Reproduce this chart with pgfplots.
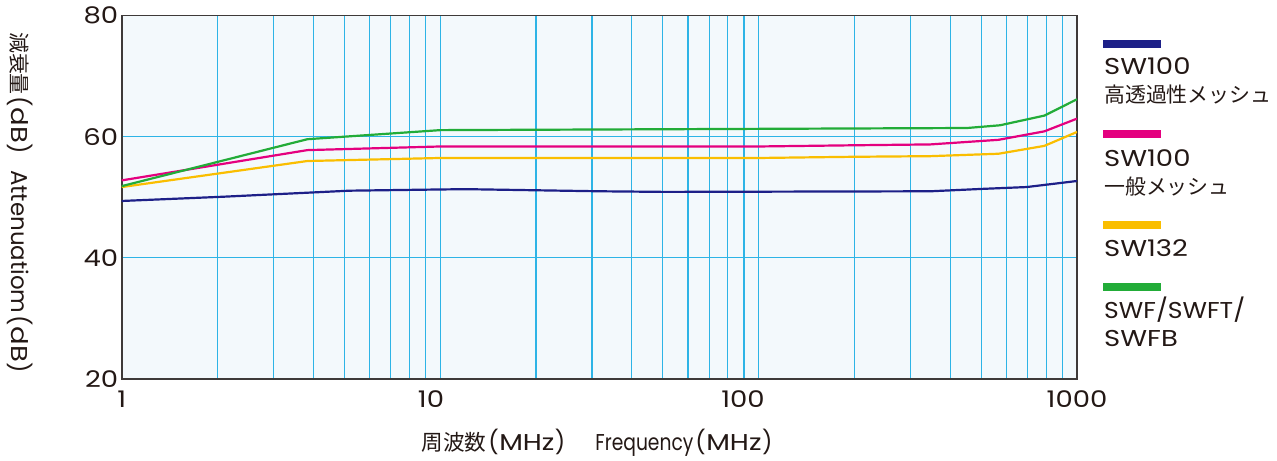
\documentclass[border=0pt]{standalone}
\usepackage{pgfplots}
\pgfplotsset{compat=1.18}
\usepackage{graphicx}
\usepackage{fontspec}
\setmainfont{Poppins}
\newfontfamily\wide{Poppins}[FakeStretch=1.2]
\newfontfamily\jp{Noto Sans CJK JP}
\definecolor{navy}{HTML}{1D2088}
\definecolor{mag}{HTML}{E4007F}
\definecolor{yel}{HTML}{FABE00}
\definecolor{grn}{HTML}{22AC38}
\definecolor{gridc}{HTML}{2DB4E6}
\definecolor{bgc}{HTML}{F3F9FC}
\definecolor{axc}{HTML}{3E3A39}
\definecolor{txt}{HTML}{231815}
\newcommand{\fs}{\fontsize{23}{28}\selectfont}
\newcommand{\J}[2][21]{{\jp\fontsize{#1}{28}\selectfont #2}}
\newcommand{\W}[2]{\resizebox{#1bp}{\height}{#2}}
\newcommand{\Par}[1]{{(\kern0.5bp{\wide #1}\kern0.5bp)}}
\begin{document}
\begin{tikzpicture}[x=1bp,y=1bp]
\useasboundingbox (0,0) rectangle (1277,461);
\begin{axis}[
  at={(121.7bp,82bp)}, anchor=south west,
  scale only axis, width=955.3bp, height=363.3bp,
  xmode=log, xmin=1, xmax=1000, ymin=20, ymax=80,
  ytick={20,40,60,80},
  xtick={1,9.36,89.4,1000}, xticklabels={1,10,100,1000},
  minor xtick={2,3,4,5,6,7,8,9,10,20,30,40,50,60,70,80,90,100,200,300,400,500,600,700,800,900},
  xmajorgrids=false, xminorgrids=true, ymajorgrids=true,
  grid style={gridc, line width=1.2bp},
  minor grid style={gridc, line width=1.2bp},
  major tick length=0pt, minor tick length=0pt,
  axis line style={axc, line width=1.6bp},
  axis background/.style={fill=bgc},
  /pgf/number format/assume math mode=true,
  ticklabel style={font=\wide\fs, text=txt},
  xticklabel style={yshift=-8bp},
  ylabel={\J{減衰量}\kern2bp\Par{dB}\hspace{16bp}Attenuatiom\kern2bp\Par{dB}},
  ylabel style={at={(axis description cs:-0.1065,0.486)}, anchor=center, rotate=180, font=\fs, text=txt},
  xlabel={\J[21.7]{周波数}\kern2bp\Par{MHz}\hspace{30bp}\W{98}{Frequency}\kern2bp\Par{MHz}},
  xlabel style={at={(axis description cs:0.4975,-0.176)}, anchor=center, font=\fs, text=txt},
  every axis plot/.append style={line width=2.2bp, line join=round},
]
\addplot[navy] coordinates {(1,49.4) (2.08,50.1) (5.2,51.1) (10,51.3) (12.1,51.35) (31.8,51.0) (51,50.9) (346,51.0) (506,51.4) (695,51.7) (1000,52.7)};
\addplot[mag] coordinates {(1,52.8) (3.83,57.8) (10,58.4) (100,58.4) (200,58.6) (346,58.74) (567,59.5) (790,60.9) (1000,63.0)};
\addplot[yel] coordinates {(1,51.7) (3.83,56.0) (10,56.5) (100,56.5) (200,56.7) (346,56.8) (567,57.2) (790,58.5) (1000,60.8)};
\addplot[grn] coordinates {(1,51.85) (3.83,59.6) (10,61.1) (451,61.45) (573,61.9) (790,63.5) (1000,66.2)};
\end{axis}
\fill[navy] (1103.3,413.3) rectangle (1161,421);
\fill[mag] (1103.3,322.7) rectangle (1161,331);
\fill[yel] (1103.3,232) rectangle (1161,240);
\fill[grn] (1103.3,170) rectangle (1161,177.7);
\begin{scope}[every node/.style={anchor=base west, inner sep=0pt, font=\wide\fs, text=txt}]
\node at (1104,386) {SW100};
\node at (1104,358) {\J{高透過性メッシュ}};
\node at (1104,294.3) {SW100};
\node at (1104,266.3) {\J{一般メッシュ}};
\node at (1104,204) {SW132};
\node at (1104,142.7) {\W{141}{SWF/SWFT/}};
\node at (1104,114.7) {SWFB};
\end{scope}
\end{tikzpicture}
\end{document}
